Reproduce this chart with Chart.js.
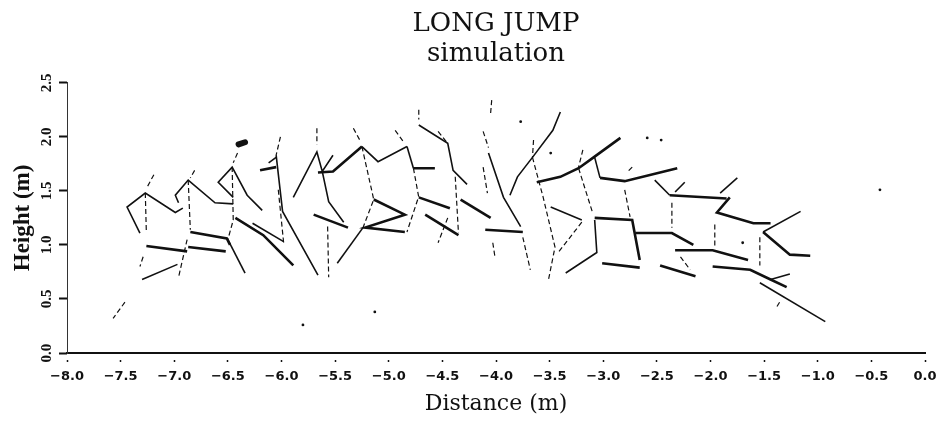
<!DOCTYPE html>
<html>
<head>
<meta charset="utf-8">
<title>Long jump simulation</title>
<script src="https://cdn.jsdelivr.net/npm/chart.js"></script>
<style>
  html, body { margin: 0; padding: 0; background: #fff; }
  #chart { display: block; }
</style>
</head>
<body>
<canvas id="chart" width="948" height="423"></canvas>
<script>
// Axis ticks (m)
const xTicks = [-8.0, -7.5, -7.0, -6.5, -6.0, -5.5, -5.0, -4.5, -4.0, -3.5, -3.0, -2.5, -2.0, -1.5, -1.0, -0.5, 0.0];
const yTicks = [0.0, 0.5, 1.0, 1.5, 2.0, 2.5];

// Stick figure frames, each polyline is [distance, height] pairs
// trunk / neck segments (dashed)
const trunkLines = [
  [[-7.19, 1.65], [-7.25, 1.54]],
  [[-7.27, 1.48], [-7.26, 1.11]],
  [[-7.29, 0.89], [-7.32, 0.80]],
  [[-7.46, 0.47], [-7.57, 0.32]],
  [[-6.81, 1.69], [-6.85, 1.62]],
  [[-6.87, 1.60], [-6.85, 1.14]],
  [[-6.88, 1.05], [-6.96, 0.70]],
  [[-6.41, 1.85], [-6.45, 1.76]],
  [[-6.46, 1.72], [-6.45, 1.23], [-6.50, 1.05]],
  [[-6.01, 2.00], [-6.05, 1.83]],
  [[-6.03, 1.51], [-5.98, 1.02]],
  [[-5.67, 2.08], [-5.67, 1.93]],
  [[-5.57, 1.17], [-5.56, 0.70]],
  [[-5.33, 2.08], [-5.27, 1.97]],
  [[-5.25, 1.91], [-5.14, 1.42], [-5.24, 1.16]],
  [[-4.94, 2.06], [-4.86, 1.95]],
  [[-4.77, 1.71], [-4.72, 1.44]],
  [[-4.73, 1.42], [-4.83, 1.12]],
  [[-4.45, 1.25], [-4.54, 1.02]],
  [[-4.72, 2.25], [-4.72, 2.16]],
  [[-4.54, 2.05], [-4.45, 1.94]],
  [[-4.38, 1.63], [-4.35, 1.11]],
  [[-4.04, 2.34], [-4.05, 2.22]],
  [[-4.12, 2.05], [-4.07, 1.90]],
  [[-4.12, 1.72], [-4.08, 1.48]],
  [[-4.03, 1.02], [-4.01, 0.89]],
  [[-3.75, 1.07], [-3.68, 0.77]],
  [[-3.65, 1.97], [-3.66, 1.81]],
  [[-3.66, 1.81], [-3.56, 1.44], [-3.45, 0.98], [-3.51, 0.68]],
  [[-3.20, 1.21], [-3.42, 0.93]],
  [[-3.19, 1.88], [-3.23, 1.72]],
  [[-3.23, 1.71], [-3.10, 1.30]],
  [[-2.73, 1.72], [-2.77, 1.68]],
  [[-2.80, 1.51], [-2.75, 1.26]],
  [[-2.36, 1.39], [-2.36, 1.16]],
  [[-2.28, 0.89], [-2.19, 0.77]],
  [[-1.96, 1.19], [-1.96, 0.97]],
  [[-1.54, 1.07], [-1.54, 0.81]],
  [[-1.38, 0.43], [-1.35, 0.48]]
];

// arms and thin limbs
const armLines = [
  [[-7.32, 1.11], [-7.44, 1.35], [-7.27, 1.48], [-6.99, 1.30], [-6.92, 1.34]],
  [[-7.30, 0.68], [-6.97, 0.82]],
  [[-6.96, 1.39], [-6.99, 1.46], [-6.87, 1.60], [-6.62, 1.39], [-6.45, 1.38]],
  [[-6.45, 1.44], [-6.59, 1.58], [-6.46, 1.72], [-6.32, 1.46], [-6.18, 1.32]],
  [[-6.50, 1.05], [-6.34, 0.74]],
  [[-6.27, 1.20], [-5.98, 1.03]],
  [[-6.12, 1.76], [-6.05, 1.81]],
  [[-6.05, 1.83], [-5.99, 1.31], [-5.66, 0.72]],
  [[-5.89, 1.44], [-5.67, 1.86], [-5.62, 1.68], [-5.52, 1.83]],
  [[-5.62, 1.68], [-5.56, 1.40], [-5.42, 1.21]],
  [[-5.48, 0.83], [-5.24, 1.16]],
  [[-5.25, 1.91], [-5.10, 1.77], [-4.83, 1.91]],
  [[-4.83, 1.91], [-4.77, 1.71]],
  [[-4.72, 2.11], [-4.45, 1.94], [-4.40, 1.69], [-4.27, 1.56]],
  [[-4.07, 1.85], [-3.93, 1.44], [-3.77, 1.17]],
  [[-3.87, 1.46], [-3.80, 1.63], [-3.66, 1.81], [-3.47, 2.06], [-3.40, 2.23]],
  [[-3.49, 1.35], [-3.20, 1.23]],
  [[-3.08, 1.23], [-3.06, 0.93], [-3.35, 0.74]],
  [[-3.08, 1.81], [-3.03, 1.62]],
  [[-2.52, 1.60], [-2.38, 1.46]],
  [[-2.33, 1.49], [-2.24, 1.58]],
  [[-1.91, 1.48], [-1.75, 1.62]],
  [[-1.51, 1.12], [-1.16, 1.31]],
  [[-1.44, 0.68], [-1.26, 0.73]],
  [[-1.54, 0.65], [-0.93, 0.29]]
];

// legs (heavy strokes)
const legLines = [
  [[-7.26, 0.99], [-6.88, 0.94]],
  [[-6.85, 1.12], [-6.51, 1.06], [-6.48, 1.00]],
  [[-6.87, 0.98], [-6.52, 0.94]],
  [[-6.43, 1.25], [-6.17, 1.09], [-5.89, 0.81]],
  [[-6.20, 1.69], [-6.05, 1.72]],
  [[-5.66, 1.67], [-5.52, 1.68], [-5.25, 1.91]],
  [[-5.70, 1.28], [-5.38, 1.16]],
  [[-5.14, 1.42], [-4.85, 1.28], [-5.22, 1.16], [-4.85, 1.12]],
  [[-4.77, 1.71], [-4.57, 1.71]],
  [[-4.72, 1.44], [-4.43, 1.34]],
  [[-4.66, 1.28], [-4.35, 1.09]],
  [[-4.33, 1.42], [-4.05, 1.25]],
  [[-4.10, 1.14], [-3.75, 1.12]],
  [[-3.62, 1.58], [-3.40, 1.63], [-3.23, 1.71], [-3.09, 1.81], [-2.84, 1.99]],
  [[-3.03, 1.62], [-2.80, 1.59], [-2.31, 1.71]],
  [[-3.08, 1.25], [-2.73, 1.23], [-2.66, 0.86]],
  [[-3.01, 0.83], [-2.66, 0.79]],
  [[-2.38, 1.46], [-1.85, 1.43]],
  [[-2.70, 1.11], [-2.36, 1.11], [-2.16, 1.00]],
  [[-2.47, 0.81], [-2.14, 0.71]],
  [[-1.82, 1.44], [-1.94, 1.30], [-1.60, 1.20], [-1.44, 1.20]],
  [[-2.33, 0.95], [-1.98, 0.95], [-1.65, 0.86]],
  [[-1.98, 0.80], [-1.63, 0.77], [-1.44, 0.68], [-1.29, 0.61]],
  [[-1.51, 1.12], [-1.26, 0.91], [-1.07, 0.90]]
];

// stray marks on the plot
const headBlob = [[-6.40, 1.93], [-6.34, 1.95]];
const specks = [[-5.80, 0.26], [-5.13, 0.38], [-0.42, 1.51], [-1.70, 1.02], [-3.77, 2.14], [-2.59, 1.99], [-2.46, 1.97], [-3.49, 1.85]];

const ink = '#111';
const toPoints = line => line.map(([x, y]) => ({ x: x, y: y }));

const datasets = [];
trunkLines.forEach(line => datasets.push({
    data: toPoints(line), showLine: true, borderColor: ink, borderWidth: 1.2,
    borderDash: [5, 3], pointRadius: 0
}));
armLines.forEach(line => datasets.push({
    data: toPoints(line), showLine: true, borderColor: ink, borderWidth: 1.6, pointRadius: 0
}));
legLines.forEach(line => datasets.push({
    data: toPoints(line), showLine: true, borderColor: ink, borderWidth: 2.6, pointRadius: 0
}));
datasets.push({
    data: toPoints(headBlob), showLine: true, borderColor: ink, borderWidth: 6,
    borderCapStyle: 'round', pointRadius: 0
});
datasets.push({
    data: toPoints(specks), showLine: false, pointRadius: 1.4, pointBackgroundColor: ink, pointBorderWidth: 0
});

const fmt = v => (v < 0 ? '\u2212' : '') + Math.abs(v).toFixed(1);

new Chart(document.getElementById('chart'), {
    type: 'scatter',
    data: { datasets: datasets },
    options: {
        responsive: false,
        animation: false,
        layout: { padding: { left: 0, right: 23, top: 0, bottom: 0 } },
        plugins: {
            legend: { display: false },
            tooltip: { enabled: false },
            title: {
                display: true,
                fullSize: false,
                text: ['LONG JUMP', 'simulation'],
                color: ink,
                font: { family: "'DejaVu Serif', serif", size: 26, weight: 'normal', lineHeight: 1.15 },
                padding: { top: 9, bottom: 14 }
            }
        },
        scales: {
            x: {
                type: 'linear',
                min: -8, max: 0,
                afterBuildTicks: s => { s.ticks = xTicks.map(v => ({ value: v })); },
                afterFit: s => { s.height = 70; },
                border: { display: true, color: ink, width: 2 },
                grid: { drawOnChartArea: false, drawTicks: true, tickLength: 9, tickColor: ink, tickWidth: 1.5, tickBorderDash: [0, 6, 2, 10] },
                ticks: {
                    color: ink, padding: 7, maxRotation: 0, autoSkip: false,
                    font: { family: "'DejaVu Sans', sans-serif", size: 13, weight: 'bold' },
                    callback: v => fmt(v)
                },
                title: {
                    display: true, text: 'Distance (m)', color: ink,
                    font: { family: "'DejaVu Serif', serif", size: 22 },
                    padding: { top: 0, bottom: 6 }
                }
            },
            y: {
                type: 'linear',
                min: 0, max: 2.5,
                afterBuildTicks: s => { s.ticks = yTicks.map(v => ({ value: v })); },
                afterFit: s => { s.width = 67; },
                border: { display: true, color: '#333', width: 1 },
                grid: { drawOnChartArea: false, drawTicks: true, tickLength: 8, tickColor: ink, tickWidth: 2 },
                ticks: {
                    color: ink, padding: 3, minRotation: 90, maxRotation: 90, crossAlign: 'center', autoSkip: false,
                    font: { family: "'Liberation Serif', serif", size: 15, weight: 'bold' },
                    callback: v => fmt(v)
                },
                title: {
                    display: true, text: 'Height (m)', color: ink,
                    font: { family: "'Liberation Serif', serif", size: 23, weight: 'bold' },
                    padding: { top: 9, bottom: 0 }
                }
            }
        }
    }
});
</script>
</body>
</html>
